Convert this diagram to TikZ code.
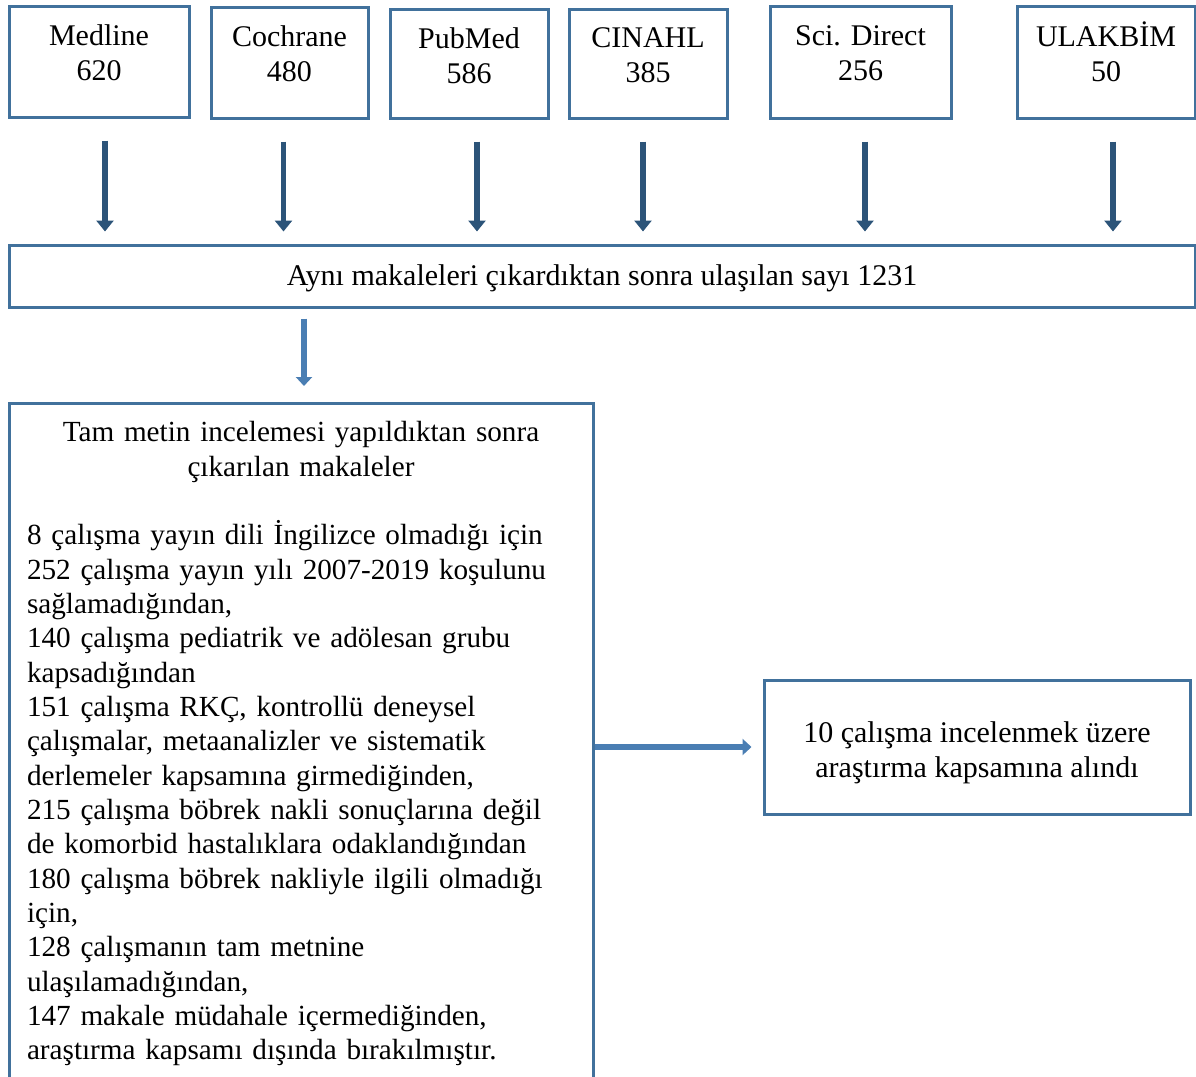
\documentclass[tikz,border=0pt]{standalone}
\usepackage{fontspec}
\setmainfont{Liberation Serif}
\usetikzlibrary{arrows.meta}

\definecolor{boxblue}{HTML}{41719C}
\definecolor{arrowdark}{HTML}{2C5479}
\definecolor{arrowlight}{HTML}{4A7EB3}

\tikzset{
  dbbox/.style={draw=boxblue, line width=1.5pt, inner sep=0pt},
  dbname/.style={anchor=north, align=center, yshift=-10pt, inner sep=0pt},
  flowdown/.style={draw=arrowdark, line width=2.6pt, -{Triangle[width=8.5pt,length=5.5pt]}},
  flowlight/.style={draw=arrowlight, line width=2.8pt, -{Triangle[width=8pt,length=4.5pt]}},
}

\begin{document}
\begin{tikzpicture}[x=0.5pt, y=-0.5pt, font=\fontsize{15}{17.17}\selectfont]
    \useasboundingbox (0,0) rectangle (1196,1077);
    \clip (0,0) rectangle (1196,1077);

    % Databases
    \node[dbbox, minimum width=90pt, minimum height=55.5pt, label={[dbname]north:{Medline\\620}}] (medline) at (99,61.5) {};
    \node[dbbox, minimum width=78.5pt, minimum height=55.5pt, label={[dbname]north:{Cochrane\\480}}] (cochrane) at (289.5,62.5) {};
    \node[dbbox, minimum width=79pt, minimum height=54.5pt, label={[dbname]north:{PubMed\\586}}] (pubmed) at (469,63.5) {};
    \node[dbbox, minimum width=79pt, minimum height=54.5pt, label={[dbname]north:{CINAHL\\385}}] (cinahl) at (648,63.5) {};
    \node[dbbox, minimum width=90.5pt, minimum height=56pt, label={[dbname, yshift=-0.5pt]north:{Sci. Direct\\256}}] (scidirect) at (860.5,62) {};
    \node[dbbox, minimum width=89pt, minimum height=56pt, label={[dbname, yshift=1.5pt]north:{ULAKBİM\\50}}] (ulakbim) at (1106,62) {};

    % Duplicates removed
    \node[dbbox, minimum width=593pt, minimum height=31pt, text height=13pt, text depth=3.3pt] (merged) at (602,276) {Aynı makaleleri çıkardıktan sonra ulaşılan sayı 1231};

    % Full text review
    \node[dbbox, anchor=north, text width=274pt, inner xsep=9pt, inner ysep=9pt, font=\fontsize{14.6}{17.17}\selectfont] (excluded) at (301,402) {%
      {\centering Tam metin incelemesi yapıldıktan sonra\\
      çıkarılan makaleler\par}
      \mbox{}\par
      \raggedright
      8 çalışma yayın dili İngilizce olmadığı için\\
      252 çalışma yayın yılı 2007-2019 koşulunu\\
      sağlamadığından,\\
      140 çalışma pediatrik ve adölesan grubu\\
      kapsadığından\\
      151 çalışma RKÇ, kontrollü deneysel\\
      çalışmalar, metaanalizler ve sistematik\\
      derlemeler kapsamına girmediğinden,\\
      215 çalışma böbrek nakli sonuçlarına değil\\
      de komorbid hastalıklara odaklandığından\\
      180 çalışma böbrek nakliyle ilgili olmadığı\\
      için,\\
      128 çalışmanın tam metnine\\
      ulaşılamadığından,\\
      147 makale müdahale içermediğinden,\\
      araştırma kapsamı dışında bırakılmıştır.\\
      \mbox{}};

    % Included
    \node[dbbox, minimum width=213pt, minimum height=67pt, label={[dbname, yshift=-11.5pt]north:{10 çalışma incelenmek üzere\\araştırma kapsamına alındı}}] (included) at (977,747) {};

    % Arrows
    \draw[flowdown, shorten <=11pt, shorten >=6pt] ([xshift=3pt]medline.south) -- ([xshift=3pt]medline.south |- merged.north);
    \draw[flowdown, shorten <=11pt, shorten >=6pt] ([xshift=-3pt]cochrane.south) -- ([xshift=-3pt]cochrane.south |- merged.north);
    \draw[flowdown, shorten <=11pt, shorten >=6pt] ([xshift=4pt]pubmed.south) -- ([xshift=4pt]pubmed.south |- merged.north);
    \draw[flowdown, shorten <=11pt, shorten >=6pt] ([xshift=-2.5pt]cinahl.south) -- ([xshift=-2.5pt]cinahl.south |- merged.north);
    \draw[flowdown, shorten <=11pt, shorten >=6pt] ([xshift=2.25pt]scidirect.south) -- ([xshift=2.25pt]scidirect.south |- merged.north);
    \draw[flowdown, shorten <=11pt, shorten >=6pt] ([xshift=3.5pt]ulakbim.south) -- ([xshift=3.5pt]ulakbim.south |- merged.north);
    \draw[flowlight, shorten <=5pt, shorten >=8pt] ([xshift=1.5pt]merged.south -| excluded.north) -- ([xshift=1.5pt]excluded.north);
    \draw[flowlight, shorten >=5.5pt] (included.west -| excluded.east) -- (included.west);

  \end{tikzpicture}
\end{document}
